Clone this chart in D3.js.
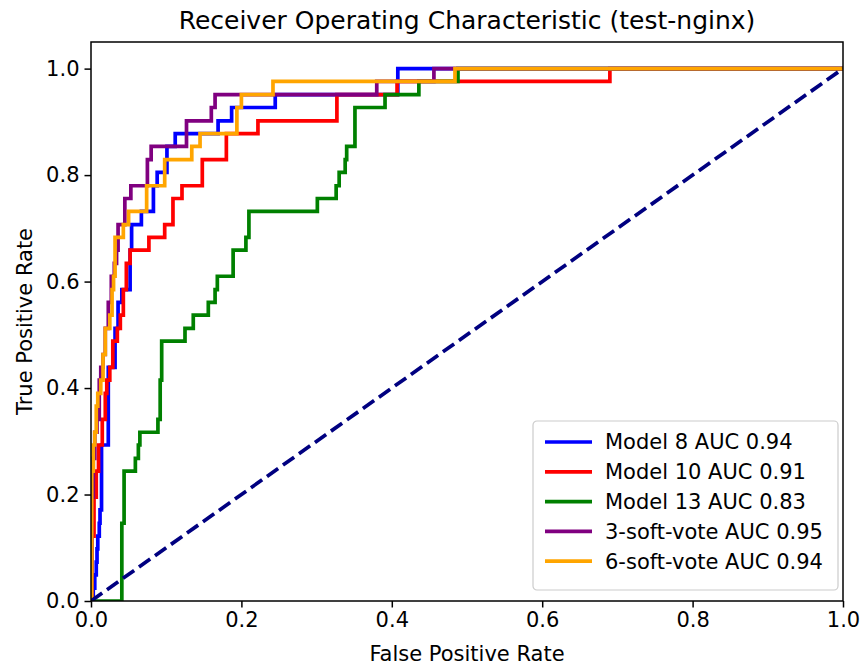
<!DOCTYPE html>
<html>
<head>
<meta charset="utf-8">
<script src="https://cdn.jsdelivr.net/npm/d3@7"></script>
<style>
  body { margin: 0; background: #fff; }
  svg { font-family: 'DejaVu Sans', sans-serif; }
</style>
</head>
<body>
<div class="chart"></div>
<script>
// ROC points (fpr, tpr), drawn as steps
const model8Fpr = [0, .003, .005, .007, .008, .009, .011, .012, .014, .023, .032, .036, .041, .052, .054, .067, .083, .088, .101, .112, .169, .187, .245, .408, 1]
const model8Tpr = [0, .024, .049, .073, .098, .122, .146, .171, .293, .439, .512, .561, .585, .659, .707, .732, .780, .805, .854, .878, .902, .927, .951, 1, 1]

const model10Fpr = [0, .001, .004, .007, .010, .015, .019, .021, .025, .029, .035, .039, .043, .047, .052, .077, .098, .109, .121, .148, .180, .222, .327, .407, .690, 1]
const model10Tpr = [0, .122, .195, .244, .293, .341, .390, .415, .439, .488, .512, .537, .585, .634, .659, .683, .707, .756, .780, .829, .878, .902, .951, .976, 1, 1]

const model13Fpr = [0, .041, .044, .059, .063, .065, .089, .092, .094, .125, .136, .156, .165, .168, .189, .206, .210, .301, .326, .330, .338, .340, .351, .391, .436, .488, 1]
const model13Tpr = [0, .146, .244, .268, .293, .317, .341, .415, .488, .512, .537, .561, .585, .610, .659, .683, .732, .756, .780, .805, .829, .854, .927, .951, .976, 1, 1]

const vote3Fpr = [0, .001, .003, .005, .008, .011, .013, .016, .019, .023, .027, .031, .034, .036, .045, .053, .075, .080, .127, .160, .165, .380, .456, 1]
const vote3Tpr = [0, .195, .268, .317, .341, .415, .439, .463, .512, .561, .610, .634, .659, .707, .756, .780, .829, .854, .902, .927, .951, .976, 1, 1]

const vote6Fpr = [0, .001, .003, .005, .007, .009, .013, .016, .019, .025, .028, .030, .032, .043, .050, .074, .098, .134, .145, .194, .200, .242, .484, 1]
const vote6Tpr = [0, .244, .293, .317, .366, .390, .415, .463, .512, .537, .585, .610, .683, .707, .732, .780, .829, .854, .878, .927, .951, .976, 1, 1]

const seriesNames = ['Model 8 AUC 0.94', 'Model 10 AUC 0.91', 'Model 13 AUC 0.83', '3-soft-vote AUC 0.95', '6-soft-vote AUC 0.94']
const seriesColours = ['blue', 'red', 'green', 'purple', 'orange']
const seriesFpr = [model8Fpr, model10Fpr, model13Fpr, vote3Fpr, vote6Fpr]
const seriesTpr = [model8Tpr, model10Tpr, model13Tpr, vote3Tpr, vote6Tpr]

const xTicks = [0, 0.2, 0.4, 0.6, 0.8, 1.0]
const yTicks = [0, 0.2, 0.4, 0.6, 0.8, 1.0]

const fullWidth = 860, fullHeight = 665
const margin = { top: 42, right: 17, bottom: 64, left: 91 }
const width = fullWidth - margin.left - margin.right
const height = fullHeight - margin.top - margin.bottom
const fontSize = '21px'
const lw = 3.7

const svg = d3.select('.chart').append('svg')
    .attr('width', fullWidth)
    .attr('height', fullHeight)

const g = svg.append('g')
    .attr('transform', `translate(${margin.left}, ${margin.top})`)

const xScale = d3.scaleLinear().domain([0, 1]).range([0, width])
const yScale = d3.scaleLinear().domain([0, 1.05]).range([height, 0])

const clip = g.append('clipPath').attr('id', 'clip')
clip.append('rect').attr('width', width).attr('height', height)

const plot = g.append('g').attr('clip-path', 'url(#clip)')

const line = d3.line()
    .x(d => xScale(d[0]))
    .y(d => yScale(d[1]))
    .curve(d3.curveStepAfter)

seriesFpr.forEach((fpr, i) => {
    let pts = fpr.map((f, j) => [f, seriesTpr[i][j]])
    plot.append('path')
        .attr('d', line(pts))
        .attr('fill', 'none')
        .attr('stroke', seriesColours[i])
        .attr('stroke-width', lw)
        .attr('stroke-linejoin', 'miter')
        .attr('stroke-linecap', 'square')
})

// chance line
plot.append('path')
    .attr('d', d3.line().x(d => xScale(d[0])).y(d => yScale(d[1]))([[0, 0], [1, 1]]))
    .attr('fill', 'none')
    .attr('stroke', 'navy')
    .attr('stroke-width', lw)
    .attr('stroke-dasharray', '13.7,5.9')

// axes
const xAxis = d3.axisBottom(xScale).tickValues(xTicks).tickFormat(d3.format('.1f')).tickSizeOuter(0).tickSize(6.5).tickPadding(5)
const yAxis = d3.axisLeft(yScale).tickValues(yTicks).tickFormat(d3.format('.1f')).tickSizeOuter(0).tickSize(6.5).tickPadding(5)

g.append('g')
    .attr('transform', `translate(0, ${height})`)
    .style('font-size', fontSize)
    .call(xAxis)
g.append('g')
    .style('font-size', fontSize)
    .call(yAxis)

g.selectAll('.domain').remove()
g.selectAll('.tick line').attr('stroke', '#000').attr('stroke-width', 1.5)
g.selectAll('.tick text').attr('fill', '#000').attr('font-family', 'DejaVu Sans')

g.append('rect')
    .attr('width', width)
    .attr('height', height)
    .attr('fill', 'none')
    .attr('stroke', '#000')
    .attr('stroke-width', 1.5)

// labels
svg.append('text')
    .attr('x', margin.left + width / 2)
    .attr('y', 29)
    .attr('text-anchor', 'middle')
    .style('font-size', '25px')
    .text('Receiver Operating Characteristic (test-nginx)')

svg.append('text')
    .attr('x', margin.left + width / 2)
    .attr('y', 661)
    .attr('text-anchor', 'middle')
    .style('font-size', fontSize)
    .text('False Positive Rate')

svg.append('text')
    .attr('transform', `translate(32, ${margin.top + height / 2}) rotate(-90)`)
    .attr('text-anchor', 'middle')
    .style('font-size', fontSize)
    .text('True Positive Rate')

// legend
const legend = g.append('g').attr('transform', `translate(${533 - margin.left}, ${421 - margin.top})`)
legend.append('rect')
    .attr('width', 305)
    .attr('height', 169)
    .attr('rx', 4)
    .attr('fill', '#fff')
    .attr('fill-opacity', 0.8)
    .attr('stroke', '#cccccc')
    .attr('stroke-width', 1.2)

seriesNames.forEach((name, i) => {
    let y = 21 + i * 29.8
    legend.append('line')
        .attr('x1', 12).attr('x2', 59)
        .attr('y1', y).attr('y2', y)
        .attr('stroke', seriesColours[i])
        .attr('stroke-width', lw)
    legend.append('text')
        .attr('x', 72)
        .attr('y', y)
        .attr('dy', '0.35em')
        .style('font-size', fontSize)
        .text(name)
})
</script>
</body>
</html>
